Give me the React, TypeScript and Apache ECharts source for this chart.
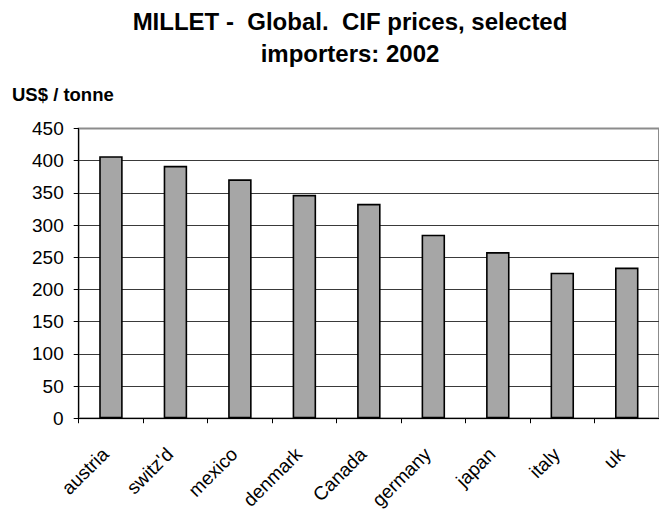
import React, { useEffect, useRef } from "react";
import * as echarts from "echarts";

const categories = ["austria", "switz'd", "mexico", "denmark", "Canada", "germany", "japan", "italy", "uk"];
const prices = [407, 392, 371, 347, 333, 285, 258, 226, 234];
const titleLines = ["MILLET -  Global.  CIF prices, selected", "importers: 2002"];
const unitLabel = "US$ / tonne";
const yMin = 0;
const yMax = 450;
const yStep = 50;

const FONT = "'Liberation Sans', Arial, sans-serif";

export default function App() {
  const ref = useRef<HTMLDivElement>(null);
  useEffect(() => {
    if (!ref.current) return;
    const chart = echarts.init(ref.current, undefined, { renderer: "svg" });
    const nLines = (yMax - yMin) / yStep + 1;
    const splitColors = Array.from({ length: nLines }, (_, i) => (i === nLines - 1 ? "#8c8c8c" : "#3a3a3a"));
    chart.setOption({
      animation: false,
      backgroundColor: "#ffffff",
      textStyle: { fontFamily: FONT },
      graphic: [
        {
          type: "text",
          x: 350,
          y: 5.5,
          style: {
            text: titleLines.join("\n"),
            textAlign: "center",
            textVerticalAlign: "top",
            lineHeight: 32,
            font: `bold 24px ${FONT}`,
            fill: "#000",
          },
        },
        {
          type: "text",
          x: 12,
          y: 94,
          style: {
            text: unitLabel,
            textAlign: "left",
            textVerticalAlign: "middle",
            font: `bold 18.5px ${FONT}`,
            fill: "#000",
          },
        },
      ],
      grid: {
        left: 78.7,
        top: 128.5,
        width: 591.3,
        height: 292.8,
        show: true,
        borderColor: "#8c8c8c",
        borderWidth: 2,
        containLabel: false,
      },
      xAxis: {
        type: "category",
        data: categories,
        boundaryGap: true,
        axisLine: { show: true, lineStyle: { color: "#000", width: 1 } },
        axisTick: { show: true, length: 5, inside: false, interval: 0, lineStyle: { color: "#000" } },
        axisLabel: {
          interval: 0,
          rotate: 45,
          fontSize: 19,
          color: "#000",
          margin: 27,
          padding: [0, 8, 0, 0],
          fontFamily: FONT,
        },
        splitLine: { show: false },
      },
      yAxis: {
        type: "value",
        min: yMin,
        max: yMax,
        interval: yStep,
        axisLine: { show: true, lineStyle: { color: "#000", width: 1 } },
        axisTick: { show: true, length: 5, inside: false, lineStyle: { color: "#000" } },
        axisLabel: { fontSize: 19, color: "#000", margin: 15, fontFamily: FONT },
        splitLine: { show: true, lineStyle: { color: splitColors, width: 1 } },
      },
      series: [
        {
          type: "bar",
          data: prices,
          barWidth: 23.5,
          itemStyle: { color: "#a6a6a6", borderColor: "#000", borderWidth: 1.6 },
        },
      ],
    });
    return () => chart.dispose();
  }, []);
  return <div ref={ref} style={{ position: "fixed", left: 0, top: 0, width: 659, height: 512 }} />;
}
